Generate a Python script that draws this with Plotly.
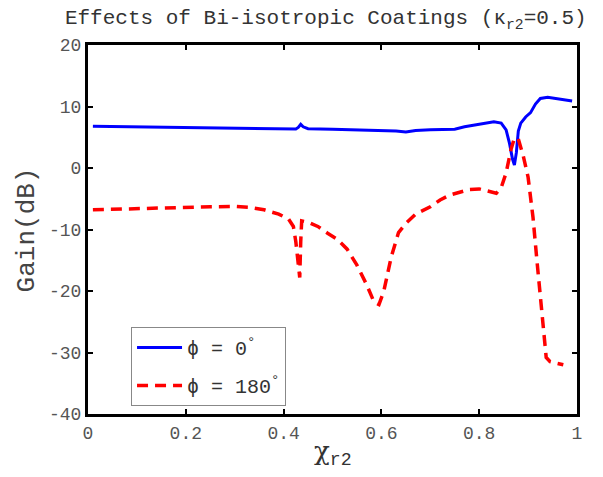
import plotly.graph_objects as go

# Blue curve: phi = 0 deg
x_phi0 = [0.01, 0.05, 0.1, 0.15, 0.2, 0.25, 0.3, 0.35, 0.4, 0.425, 0.43, 0.435, 0.44, 0.45,
          0.5, 0.55, 0.6, 0.63, 0.65, 0.67, 0.7, 0.75, 0.77, 0.8, 0.83, 0.845, 0.855, 0.862,
          0.868, 0.872, 0.876, 0.88, 0.885, 0.895, 0.905, 0.915, 0.925, 0.94, 0.96, 0.98, 0.99]
g_phi0 = [6.8, 6.75, 6.7, 6.6, 6.55, 6.5, 6.45, 6.4, 6.35, 6.35, 6.6, 7.1, 6.7, 6.4,
          6.3, 6.2, 6.1, 6.0, 5.85, 6.1, 6.2, 6.3, 6.7, 7.1, 7.5, 7.3, 6.2, 4.0,
          1.5, 0.5, 2.5, 6.0, 7.3, 8.3, 9.0, 10.4, 11.3, 11.5, 11.3, 11.0, 10.9]

# Red dashed curve: phi = 180 deg
x_phi180 = [0.01, 0.05, 0.1, 0.15, 0.2, 0.25, 0.3, 0.33, 0.36, 0.39, 0.41, 0.42, 0.425, 0.433,
            0.435, 0.437, 0.45, 0.47, 0.49, 0.51, 0.53, 0.55, 0.57, 0.585, 0.595, 0.605, 0.62,
            0.635, 0.65, 0.67, 0.7, 0.72, 0.74, 0.76, 0.78, 0.8, 0.82, 0.835, 0.845, 0.855,
            0.865, 0.872, 0.88, 0.89, 0.9, 0.91, 0.918, 0.925, 0.93, 0.937, 0.945, 0.96, 0.972]
g_phi180 = [-6.8, -6.7, -6.6, -6.5, -6.4, -6.3, -6.25, -6.4, -6.8, -7.5, -8.3, -9.5, -12, -17.8,
            -12, -8.6, -8.8, -9.5, -10.6, -11.6, -13.2, -15.8, -19, -21.8, -22.2, -20, -14.5,
            -10.5, -9, -7.5, -6.3, -5.2, -4.4, -3.9, -3.5, -3.4, -3.8, -4.1, -3.2, -0.8,
            3.0, 4.9, 4.7, 2.0, -1.5, -8, -15, -21, -26, -30.8, -31.5, -31.8, -32.0]

x_ticks = [0, 0.2, 0.4, 0.6, 0.8, 1]
x_tick_labels = ["0", "0.2", "0.4", "0.6", "0.8", "1"]
y_ticks = [-40, -30, -20, -10, 0, 10, 20]
y_tick_labels = ["-40", "-30", "-20", "-10", "0", "10", "20"]

MONO = "Liberation Mono, Courier New, monospace"

fig = go.Figure()
fig.add_trace(go.Scatter(x=x_phi0, y=g_phi0, mode="lines", legendgroup="a",
                         name="\u03d5 = 0<sup>\u00b0</sup>",
                         line=dict(color="#0000ff", width=3)))
fig.add_trace(go.Scatter(x=x_phi180, y=g_phi180, mode="lines", legendgroup="b",
                         name="\u03d5 = 180<sup>\u00b0</sup>",
                         line=dict(color="#ff0000", width=3.5, dash="11px,7px")))

axis_common = dict(showgrid=False, zeroline=False, showline=True, linecolor="black",
                   linewidth=3, mirror="ticks", ticks="inside", ticklen=5, tickwidth=2,
                   tickcolor="black", tickfont=dict(family=MONO, size=18, color="#555555"))

fig.update_layout(
    width=603, height=477,
    margin=dict(l=80, r=34, t=37, b=71),
    paper_bgcolor="white", plot_bgcolor="white",
    title=dict(text="Effects of Bi-isotropic Coatings (\u03ba<sub>r2</sub>=0.5)",
               font=dict(family=MONO, size=21, color="#333333"),
               x=0.527, xanchor="center", y=1 - 9 / 477, yanchor="middle", yref="container"),
    xaxis=dict(range=[0, 1], tickvals=x_ticks, ticktext=x_tick_labels, **axis_common),
    yaxis=dict(range=[-40, 20], tickvals=y_ticks, ticktext=y_tick_labels, **axis_common),
    legend=dict(x=0.088, y=0.022, xanchor="left", yanchor="bottom",
                bordercolor="#888888", borderwidth=1, bgcolor="white",
                itemwidth=45, tracegroupgap=9,
                font=dict(family=MONO, size=20, color="#333333")),
    showlegend=True,
)

fig.add_annotation(text="Gain(dB)", xref="paper", yref="paper", x=-0.125, y=0.5,
                   xanchor="center", yanchor="middle", textangle=-90, showarrow=False,
                   font=dict(family=MONO, size=26, color="#444444"))
fig.add_annotation(text="<span style='font-family:DejaVu Serif, serif'>\u03c7</span><sub>r2</sub>",
                   xref="paper", yref="paper", x=0.5, y=-0.106, xanchor="center", yanchor="middle",
                   showarrow=False, font=dict(family=MONO, size=26, color="#333333"))

fig.write_html("out.html")
